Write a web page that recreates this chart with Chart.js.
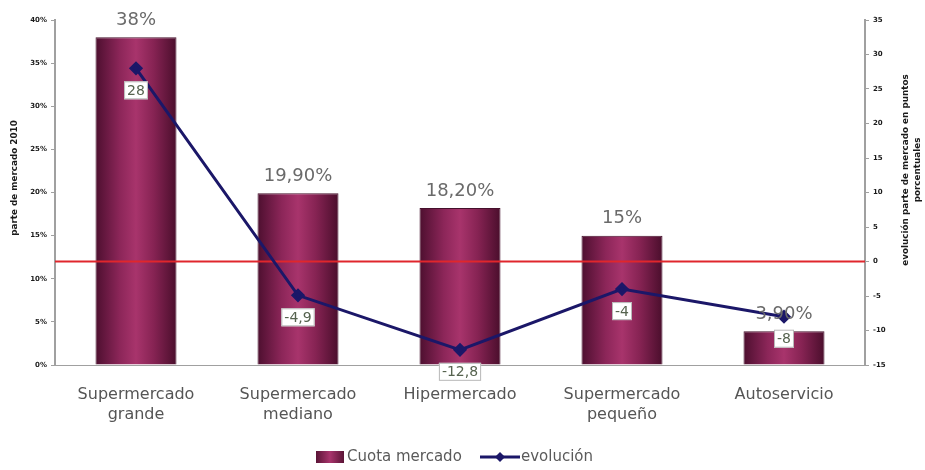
<!DOCTYPE html>
<html>
<head>
<meta charset="utf-8">
<script src="https://cdn.jsdelivr.net/npm/chart.js@4.4.1/dist/chart.umd.min.js"></script>
<style>
  html, body { margin: 0; padding: 0; background: #fff; }
  #wrap { width: 925px; height: 470px; }
</style>
</head>
<body>
<div id="wrap"><canvas id="cuotaChart" width="925" height="470"></canvas></div>
<script>
// Categories and series
const categorias = [['Supermercado', 'grande'], ['Supermercado', 'mediano'], ['Hipermercado'], ['Supermercado', 'pequeño'], ['Autoservicio']]
const cuotaMercado = [38, 19.9, 18.2, 15, 3.9]
const evolucion = [28, -4.9, -12.8, -4, -8]

// Axis ranges
const cuotaMin = 0, cuotaMax = 40, cuotaStep = 5
const evolMin = -15, evolMax = 35, evolStep = 5

const tituloCuota = 'parte de mercado 2010'
const tituloEvol = ['evolución parte de mercado en puntos', 'porcentuales']

const fontFace = '"DejaVu Sans", Verdana, sans-serif'

function cuotaLabel(v) {
    if (Number.isInteger(v)) return v + '%'
    return v.toFixed(2).replace('.', ',') + '%'
}
function evolLabel(v) {
    return String(v).replace('.', ',')
}

// Cylinder-ish shading across each bar
function barGradient(context) {
    const chart = context.chart
    if (!chart.chartArea || !chart.scales.x) return '#8a2457'
    const x = chart.scales.x
    const cx = x.getPixelForValue(context.dataIndex)
    const half = (x.width / categorias.length) * 0.25
    const g = chart.ctx.createLinearGradient(cx - half, 0, cx + half, 0)
    g.addColorStop(0, '#4d0f2f')
    g.addColorStop(0.3, '#8c2659')
    g.addColorStop(0.5, '#a8346c')
    g.addColorStop(0.72, '#862353')
    g.addColorStop(1, '#4a0e2c')
    return g
}

// Red reference line at zero of the right axis, drawn over the bars
const zeroLine = {
    id: 'zeroLine',
    afterDatasetDraw(chart, args) {
        if (args.index !== 0) return
        const ctx = chart.ctx
        const y = chart.scales.yEvol.getPixelForValue(0)
        ctx.save()
        ctx.strokeStyle = '#e0262c'
        ctx.lineWidth = 2
        ctx.beginPath()
        ctx.moveTo(chart.chartArea.left, y)
        ctx.lineTo(chart.chartArea.right, y)
        ctx.stroke()
        ctx.restore()
    }
}

// Both axis titles read bottom to top
const axisTitles = {
    id: 'axisTitles',
    afterDraw(chart) {
        const ctx = chart.ctx
        const cy = 170
        ctx.save()
        ctx.font = 'bold 8.8px ' + fontFace
        ctx.fillStyle = '#1a1a1a'
        ctx.textAlign = 'center'
        ctx.textBaseline = 'middle'

        ctx.save()
        ctx.translate(15, 178)
        ctx.rotate(-Math.PI / 2)
        ctx.fillText(tituloCuota, 0, 0)
        ctx.restore()

        ctx.save()
        ctx.translate(906, cy)
        ctx.rotate(-Math.PI / 2)
        tituloEvol.forEach((line, i) => ctx.fillText(line, 0, i * 12))
        ctx.restore()

        ctx.restore()
    }
}

// Value labels: above the bars, boxed under the line points
const valueLabels = {
    id: 'valueLabels',
    afterDatasetsDraw(chart) {
        const ctx = chart.ctx
        ctx.save()
        ctx.textAlign = 'center'

        const bars = chart.getDatasetMeta(0).data
        ctx.font = '18px ' + fontFace
        ctx.fillStyle = '#6a6a6a'
        ctx.textBaseline = 'bottom'
        bars.forEach((bar, i) => {
            ctx.fillText(cuotaLabel(cuotaMercado[i]), bar.x, bar.y - 8)
        })

        const points = chart.getDatasetMeta(1).data
        ctx.font = '14px ' + fontFace
        ctx.textBaseline = 'middle'
        points.forEach((pt, i) => {
            const txt = evolLabel(evolucion[i])
            const w = ctx.measureText(txt).width + 6
            const h = 18
            const cy = pt.y + 22
            ctx.fillStyle = '#ffffff'
            ctx.fillRect(pt.x - w / 2, cy - h / 2, w, h)
            ctx.strokeStyle = '#b8b8b8'
            ctx.lineWidth = 1
            ctx.strokeRect(pt.x - w / 2 + 0.5, cy - h / 2 + 0.5, w - 1, h - 1)
            ctx.fillStyle = '#56634f'
            ctx.fillText(txt, pt.x, cy + 1)
        })
        ctx.restore()
    }
}

// Legend row at the bottom
const bottomLegend = {
    id: 'bottomLegend',
    afterDraw(chart) {
        const ctx = chart.ctx
        const y = 457
        ctx.save()
        const g = ctx.createLinearGradient(316, 0, 344, 0)
        g.addColorStop(0, '#5a1436')
        g.addColorStop(0.5, '#a8346c')
        g.addColorStop(1, '#5a1436')
        ctx.fillStyle = g
        ctx.fillRect(316, y - 6, 28, 12)

        ctx.font = '15px ' + fontFace
        ctx.fillStyle = '#5a5a5a'
        ctx.textBaseline = 'middle'
        ctx.textAlign = 'left'
        ctx.fillText('Cuota mercado', 347, y)

        ctx.strokeStyle = '#1b1768'
        ctx.lineWidth = 3
        ctx.beginPath()
        ctx.moveTo(480, y)
        ctx.lineTo(520, y)
        ctx.stroke()
        ctx.fillStyle = '#1b1768'
        ctx.beginPath()
        ctx.moveTo(500, y - 5)
        ctx.lineTo(505, y)
        ctx.lineTo(500, y + 5)
        ctx.lineTo(495, y)
        ctx.closePath()
        ctx.fill()

        ctx.fillStyle = '#5a5a5a'
        ctx.fillText('evolución', 521, y)
        ctx.restore()
    }
}

const config = {
    data: {
        labels: categorias,
        datasets: [
            {
                type: 'bar',
                label: 'Cuota mercado',
                data: cuotaMercado,
                yAxisID: 'yCuota',
                backgroundColor: barGradient,
                borderColor: '#45102c',
                borderWidth: 1,
                categoryPercentage: 1,
                barPercentage: 0.5,
                order: 2
            },
            {
                type: 'line',
                label: 'evolución',
                data: evolucion,
                yAxisID: 'yEvol',
                borderColor: '#1b1768',
                backgroundColor: '#1b1768',
                borderWidth: 3,
                pointStyle: 'rectRot',
                pointRadius: 5,
                tension: 0,
                order: 1
            }
        ]
    },
    options: {
        responsive: false,
        animation: false,
        layout: { padding: { top: 20, bottom: 35, left: 0, right: 0 } },
        plugins: {
            legend: { display: false },
            tooltip: { enabled: false }
        },
        scales: {
            x: {
                grid: { display: false },
                border: { display: true, color: '#a0a0a0', width: 1 },
                ticks: {
                    padding: 12,
                    color: '#555',
                    font: { family: fontFace, size: 16, lineHeight: 1.25 },
                    maxRotation: 0,
                    autoSkip: false
                },
                afterFit(scale) { scale.height = 70 }
            },
            yCuota: {
                position: 'left',
                min: cuotaMin,
                max: cuotaMax,
                grid: { drawOnChartArea: false, drawTicks: true, tickLength: 4, color: '#a0a0a0' },
                border: { color: '#a0a0a0', width: 2 },
                ticks: {
                    stepSize: cuotaStep,
                    padding: 4,
                    color: '#1a1a1a',
                    font: { family: fontFace, size: 7, weight: 'bold' },
                    callback: v => v + '%'
                },
                afterFit(scale) { scale.width = 55 }
            },
            yEvol: {
                position: 'right',
                min: evolMin,
                max: evolMax,
                grid: { drawOnChartArea: false, drawTicks: true, tickLength: 4, color: '#a0a0a0' },
                border: { color: '#a0a0a0', width: 2 },
                ticks: {
                    stepSize: evolStep,
                    padding: 4,
                    color: '#1a1a1a',
                    font: { family: fontFace, size: 7, weight: 'bold' }
                },
                afterFit(scale) { scale.width = 60 }
            }
        }
    },
    plugins: [zeroLine, valueLabels, axisTitles, bottomLegend]
}

const cuotaChart = new Chart(document.getElementById('cuotaChart'), config)
</script>
</body>
</html>
